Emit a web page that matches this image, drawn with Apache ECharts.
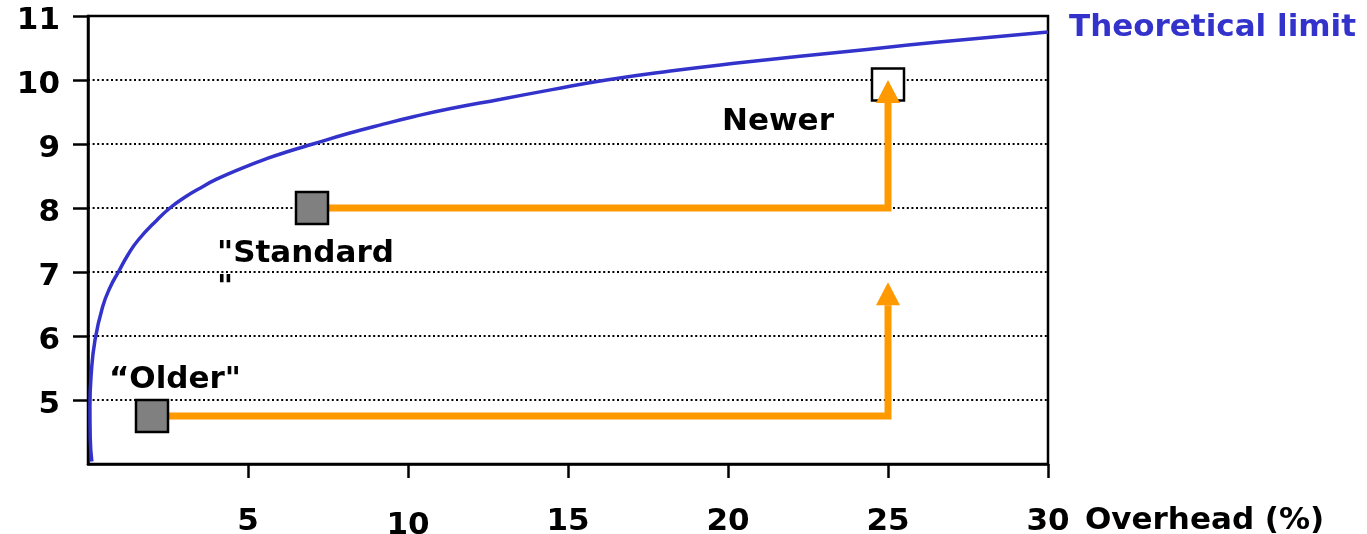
<!DOCTYPE html>
<html>
<head>
<meta charset="utf-8">
<script src="https://cdn.jsdelivr.net/npm/echarts@6/dist/echarts.min.js"></script>
<style>
  html, body { margin: 0; padding: 0; background: #fff; }
  #chart { width: 1367px; height: 534px; }
</style>
</head>
<body>
<div id="chart"></div>
<script>
// Axis ticks
const xTicks = [5, 10, 15, 20, 25, 30];
const yTicks = [5, 6, 7, 8, 9, 10, 11];

// Theoretical limit curve (overhead %, value)
const limitOverhead = [0.12, 0.07, 0.06, 0.10, 0.22, 0.46, 0.7, 0.95, 1.25, 1.57, 2.15, 2.56, 3.0, 3.5, 4.02, 4.8, 5.58, 6.3, 7.03, 8.1, 9.23, 10.2, 11.3, 12.9, 14.5, 16.2, 18.2, 20.2, 22.25, 23.8, 26.5, 30];
const limitValue    = [4.04, 4.4, 4.9, 5.4, 5.94, 6.46, 6.77, 7.0, 7.27, 7.5, 7.81, 8.0, 8.16, 8.31, 8.45, 8.62, 8.77, 8.89, 9.0, 9.16, 9.31, 9.43, 9.55, 9.7, 9.85, 10.0, 10.14, 10.26, 10.37, 10.45, 10.59, 10.75];

// Systems
const sysLabels   = ['\u201cOlder"', '"Standard\n"', 'Newer'];
const sysOverhead = [2, 7, 25];
const sysValue    = [4.75, 8, 9.93];

// Upgrade paths: horizontal run, then vertical run ending at the arrow tip
const olderPathX = [2, 25, 25];
const olderPathY = [4.75, 4.75, 6.84];
const standardPathX = [7, 25, 25];
const standardPathY = [8, 8, 10.0];

const FONT = 'DejaVu Sans';
const FS = 31;
const ORANGE = '#ff9900';
const BLUE = '#3333cc';
const ARROW_H = 23;

const chart = echarts.init(document.getElementById('chart'), null, { renderer: 'canvas' });

// Path data: the line stops at the arrow base, the triangle symbol covers base->tip
function pathData(xs, ys) {
  const pxPerUnit = 448 / 7;
  const n = xs.length;
  const out = [];
  for (let i = 0; i < n - 1; i++) out.push([xs[i], ys[i]]);
  const baseY = ys[n - 1] - ARROW_H / pxPerUnit;
  out.push({
    value: [xs[n - 1], baseY],
    symbol: 'triangle',
    symbolSize: [24, ARROW_H],
    symbolOffset: [0, '-50%']
  });
  return out;
}

const labelOffsets = [[-43, -36], [-95, 63], [-166, 37]];
const sysFill = ['#808080', '#808080', '#ffffff'];

function sysItem(i) {
  return {
    value: [sysOverhead[i], sysValue[i]],
    itemStyle: { color: sysFill[i] },
    label: {
      show: true,
      formatter: sysLabels[i],
      position: 'inside',
      align: 'left',
      verticalAlign: 'middle',
      offset: labelOffsets[i],
      fontFamily: FONT,
      fontWeight: 'bold',
      fontSize: FS,
      lineHeight: 34,
      color: '#000'
    }
  };
}

const textBase = { fontFamily: FONT, fontWeight: 'bold', fontSize: FS, color: '#000' };

const option = {
  animation: false,
  backgroundColor: '#fff',
  grid: {
    left: 88, top: 16, width: 960, height: 448,
    outerBoundsMode: 'none',
    containLabel: false,
    show: true, borderColor: '#000', borderWidth: 2.5, backgroundColor: 'transparent'
  },
  xAxis: {
    type: 'value',
    min: 0, max: 30, interval: 5,
    name: 'Overhead (%)',
    nameLocation: 'end',
    nameGap: 37,
    nameTextStyle: Object.assign({}, textBase, {
      align: 'left', verticalAlign: 'top', padding: [41, 0, 0, 0]
    }),
    axisLine: { show: true, onZero: false, lineStyle: { color: '#000', width: 2.5 } },
    axisTick: { show: true, inside: false, length: 14, customValues: xTicks, lineStyle: { color: '#000', width: 2.5 } },
    axisLabel: Object.assign({}, textBase, {
      customValues: xTicks,
      margin: 42,
      formatter: v => (v === 10 ? '{lo|10}' : '{n|' + v + '}'),
      rich: {
        n: Object.assign({}, textBase),
        lo: Object.assign({}, textBase, { padding: [4, 0, 0, 0] })
      }
    }),
    splitLine: { show: false }
  },
  yAxis: {
    type: 'value',
    min: 4, max: 11, interval: 1,
    axisLine: { show: true, onZero: false, lineStyle: { color: '#000', width: 2.5 } },
    axisTick: { show: true, inside: false, length: 15, customValues: yTicks, lineStyle: { color: '#000', width: 2.5 } },
    axisLabel: Object.assign({}, textBase, {
      customValues: yTicks,
      margin: 28,
      formatter: v => '{n|' + v + '}',
      rich: {
        n: Object.assign({}, textBase, { padding: [10, 0, 0, 0] })
      }
    }),
    splitLine: { show: true, lineStyle: { color: '#000', width: 2, type: [2, 2.6] } }
  },
  series: [
    {
      name: 'Theoretical limit',
      type: 'line',
      data: limitOverhead.map((x, i) => [x, limitValue[i]]),
      smooth: 0.5,
      symbol: 'none',
      clip: true,
      z: 3,
      lineStyle: { color: BLUE, width: 3.5 },
      endLabel: Object.assign({}, textBase, {
        show: true,
        formatter: 'Theoretical limit',
        distance: 21,
        offset: [0, -4],
        color: BLUE
      })
    },
    {
      name: 'Newer',
      type: 'scatter',
      symbol: 'rect',
      symbolSize: 32,
      z: 4,
      itemStyle: { borderColor: '#000', borderWidth: 2.5, opacity: 1 },
      data: [sysItem(2)]
    },
    {
      name: 'Older path',
      type: 'line',
      symbol: 'none',
      z: 5,
      data: pathData(olderPathX, olderPathY),
      lineStyle: { color: ORANGE, width: 7, join: 'miter', cap: 'butt' },
      itemStyle: { color: ORANGE, borderWidth: 0 }
    },
    {
      name: 'Standard path',
      type: 'line',
      symbol: 'none',
      z: 5,
      data: pathData(standardPathX, standardPathY),
      lineStyle: { color: ORANGE, width: 7, join: 'miter', cap: 'butt' },
      itemStyle: { color: ORANGE, borderWidth: 0 }
    },
    {
      name: 'Current',
      type: 'scatter',
      symbol: 'rect',
      symbolSize: 32,
      z: 6,
      itemStyle: { borderColor: '#000', borderWidth: 2.5, opacity: 1 },
      data: [sysItem(0), sysItem(1)]
    }
  ]
};

chart.setOption(option);
</script>
</body>
</html>
